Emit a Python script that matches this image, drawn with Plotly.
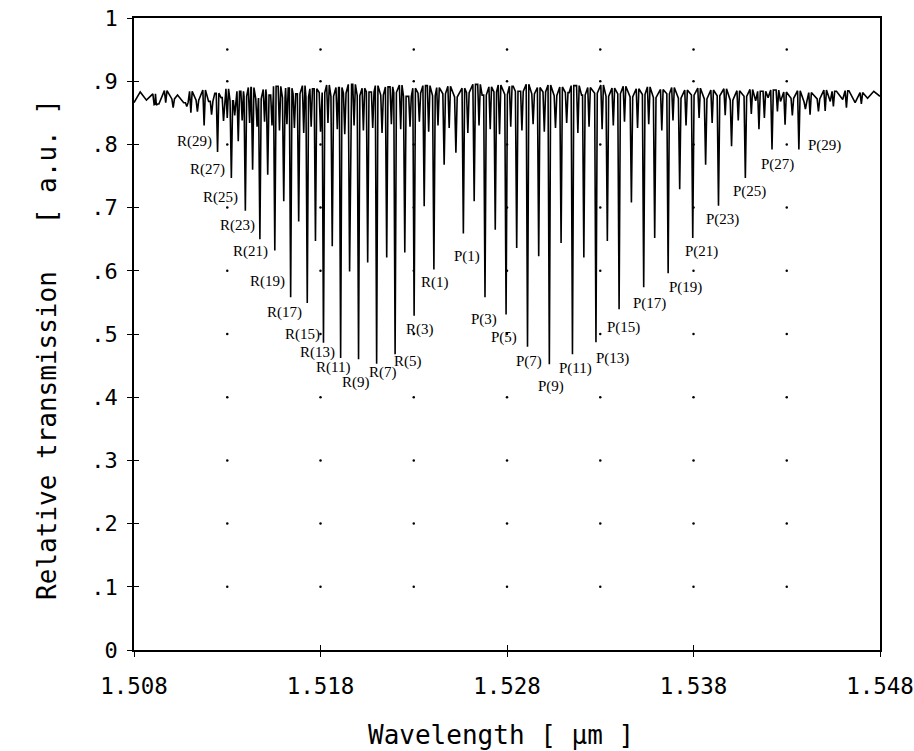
import numpy as np
import plotly.graph_objects as go

# ---------------- data ----------------
# strong branch lines (odd J)
R_J = [29, 27, 25, 23, 21, 19, 17, 15, 13, 11, 9, 7, 5, 3, 1]
R_wl = [1.51176, 1.51248, 1.51322, 1.51397, 1.51475, 1.51555, 1.51640, 1.51729,
        1.51816, 1.51908, 1.52004, 1.52101, 1.52200, 1.52302, 1.52408]
R_T = [0.830, 0.788, 0.747, 0.695, 0.650, 0.632, 0.558, 0.549,
       0.486, 0.462, 0.460, 0.453, 0.468, 0.529, 0.602]

P_J = [1, 3, 5, 7, 9, 11, 13, 15, 17, 19, 21, 23, 25, 27, 29]
P_wl = [1.52566, 1.52682, 1.52795, 1.52910, 1.53027, 1.53151, 1.53277, 1.53401,
        1.53533, 1.53664, 1.53796, 1.53934, 1.54078, 1.54221, 1.54365]
P_T = [0.659, 0.558, 0.531, 0.480, 0.452, 0.468, 0.487, 0.539,
       0.574, 0.596, 0.652, 0.703, 0.747, 0.792, 0.792]

# weaker (even J) lines
weak_wl = [1.50908, 1.51083, 1.51105, 1.51216, 1.51280, 1.51359, 1.51436, 1.51517,
           1.51603, 1.51683, 1.51773, 1.51863, 1.51956, 1.52053, 1.52155, 1.52252,
           1.52356, 1.52463, 1.52526, 1.52624, 1.52737, 1.52852, 1.52970, 1.53090,
           1.53212, 1.53338, 1.53467, 1.53592, 1.53726, 1.53865, 1.54004, 1.54151,
           1.54291, 1.54425, 1.54506]
weak_T = [0.863, 0.860, 0.850, 0.847, 0.837, 0.805, 0.760, 0.752,
          0.710, 0.678, 0.647, 0.639, 0.599, 0.613, 0.621, 0.629,
          0.702, 0.768, 0.787, 0.710, 0.665, 0.636, 0.623, 0.644,
          0.621, 0.647, 0.708, 0.652, 0.729, 0.768, 0.797, 0.824,
          0.831, 0.847, 0.853]

# small hot-band dips
hot_wl = [1.5092, 1.5097, 1.5101, 1.5114, 1.5130,
          1.5134, 1.5138, 1.5142, 1.5146, 1.5150,
          1.5154, 1.5158, 1.5162, 1.5166, 1.5171,
          1.5175, 1.5180, 1.5184, 1.5189, 1.5193,
          1.5198, 1.5203, 1.5208, 1.5213, 1.5218,
          1.5223, 1.5228, 1.5233, 1.5238, 1.5243,
          1.5249, 1.5259, 1.5265, 1.5271, 1.5276,
          1.5282, 1.5288, 1.5294, 1.5300, 1.5306,
          1.5312, 1.5318, 1.5324, 1.5331, 1.5337,
          1.5343, 1.5350, 1.5356, 1.5363, 1.5369,
          1.5376, 1.5383, 1.5390, 1.5397, 1.5404,
          1.5411, 1.5418, 1.5425, 1.5433, 1.5440,
          1.5447, 1.5455, 1.5462, 1.5470]
hot_T = [0.862, 0.866, 0.858, 0.852, 0.842,
         0.846, 0.838, 0.834, 0.828, 0.836,
         0.830, 0.822, 0.832, 0.826, 0.818,
         0.828, 0.820, 0.834, 0.824, 0.816,
         0.830, 0.822, 0.826, 0.818, 0.832,
         0.824, 0.828, 0.836, 0.820, 0.830,
         0.826, 0.818, 0.830, 0.824, 0.816,
         0.828, 0.822, 0.832, 0.820, 0.826,
         0.834, 0.818, 0.828, 0.824, 0.830,
         0.836, 0.826, 0.832, 0.822, 0.838,
         0.830, 0.842, 0.834, 0.846, 0.838,
         0.848, 0.842, 0.852, 0.846, 0.856,
         0.852, 0.860, 0.858, 0.864]

# continuum level, sampled every 1/3 nm from 1.508 to 1.548 um
cont_start = 1.508
cont_step = 1.0 / 3000.0
cont_T = [
    0.866, 0.883, 0.870, 0.880, 0.864, 0.885, 0.872, 0.878, 0.866, 0.884,
    0.870, 0.886, 0.868, 0.881, 0.874, 0.888, 0.869, 0.884, 0.876, 0.890,
    0.872, 0.887, 0.878, 0.892, 0.874, 0.889, 0.880, 0.893, 0.875, 0.888,
    0.882, 0.894, 0.876, 0.890, 0.881, 0.895, 0.877, 0.889, 0.883, 0.893,
    0.878, 0.891, 0.882, 0.894, 0.876, 0.889, 0.881, 0.893, 0.877, 0.890,
    0.880, 0.892, 0.875, 0.889, 0.882, 0.895, 0.878, 0.891, 0.883, 0.894,
    0.879, 0.892, 0.884, 0.895, 0.880, 0.890, 0.883, 0.894, 0.877, 0.891,
    0.882, 0.893, 0.878, 0.890, 0.881, 0.894, 0.876, 0.889, 0.880, 0.892,
    0.875, 0.888, 0.879, 0.891, 0.874, 0.887, 0.880, 0.890, 0.873, 0.886,
    0.878, 0.889, 0.872, 0.886, 0.877, 0.888, 0.870, 0.885, 0.876, 0.887,
    0.869, 0.884, 0.874, 0.886, 0.868, 0.883, 0.873, 0.885, 0.867, 0.882,
    0.872, 0.886, 0.868, 0.884, 0.871, 0.885, 0.866, 0.882, 0.873, 0.884, 0.876]

x_tick_vals = [1.508, 1.518, 1.528, 1.538, 1.548]
x_tick_text = ["1.508", "1.518", "1.528", "1.538", "1.548"]
y_tick_vals = [0, 0.1, 0.2, 0.3, 0.4, 0.5, 0.6, 0.7, 0.8, 0.9, 1.0]
y_tick_text = ["0", ".1", ".2", ".3", ".4", ".5", ".6", ".7", ".8", ".9", "1"]
grid_x = [1.513, 1.518, 1.523, 1.528, 1.533, 1.538, 1.543]
grid_y = [0.1, 0.2, 0.3, 0.4, 0.5, 0.6, 0.7, 0.8, 0.9, 0.95]

# ---------------- label placement (pixel offsets from line bottom) ----------------
R_dx = [-10, -10, -11, -8, -9, -7, -6, -5, -6, -8, -3, 6, 13, 6, 1]
R_dy = [16, 18, 20, 15, 12, 31, 15, 31, 10, 9, 23, 9, 7, 14, 13]
P_dx = [4, -1, -2, 1, 2, 3, 17, 4, 6, 17, 9, 4, 4, 5, 26]
P_dy = [23, 22, 23, 15, 22, 14, 16, 18, 16, 14, 14, 14, 14, 15, -4]

# ---------------- build spectrum trace ----------------
assert len(cont_T) == 121 and len(hot_wl) == len(hot_T) and len(weak_wl) == len(weak_T)
lines_wl = list(R_wl) + list(P_wl) + list(weak_wl) + list(hot_wl)
lines_T = list(R_T) + list(P_T) + list(weak_T) + list(hot_T)
half_w = 0.00007

cont_wl = [cont_start + i * cont_step for i in range(len(cont_T))]
pts = []
lw_arr = np.array(lines_wl)
for w, t in zip(cont_wl, cont_T):
    if np.min(np.abs(lw_arr - w)) > 1.5 * half_w:
        pts.append((w, t))
for w, t in zip(lines_wl, lines_T):
    k = int(round((w - cont_start) / cont_step))
    k = max(0, min(len(cont_T) - 1, k))
    top = cont_T[k]
    pts.append((w - half_w, top))
    pts.append((w, t))
    pts.append((w + half_w, top))
pts.sort(key=lambda p: p[0])
xs = [p[0] for p in pts]
ys = [p[1] for p in pts]

fig = go.Figure()
fig.add_trace(go.Scatter(x=xs, y=ys, mode="lines",
                         line=dict(color="black", width=1.6),
                         hoverinfo="skip", showlegend=False))

gx, gy = [], []
for a in grid_x:
    for b in grid_y:
        gx.append(a)
        gy.append(b)
fig.add_trace(go.Scatter(x=gx, y=gy, mode="markers",
                         marker=dict(color="black", size=2.5),
                         xaxis="x2", yaxis="y2",
                         hoverinfo="skip", showlegend=False))

lab_font = dict(family="Liberation Serif", size=15, color="black")
for j, w, t, dx, dy in zip(R_J, R_wl, R_T, R_dx, R_dy):
    fig.add_annotation(x=w, y=t, xref="x", yref="y", text=f"R({j})",
                       showarrow=False, xshift=dx, yshift=-dy, font=lab_font,
                       xanchor="center", yanchor="middle")
for j, w, t, dx, dy in zip(P_J, P_wl, P_T, P_dx, P_dy):
    fig.add_annotation(x=w, y=t, xref="x", yref="y", text=f"P({j})",
                       showarrow=False, xshift=dx, yshift=-dy, font=lab_font,
                       xanchor="center", yanchor="middle")

mono = "DejaVu Sans Mono"
fig.add_annotation(x=0.492, y=-0.134, xref="paper", yref="paper",
                   text="Wavelength [ μm ]", showarrow=False,
                   xanchor="center", yanchor="middle",
                   font=dict(family=mono, size=26, color="black"))
fig.add_annotation(x=-0.117, y=0.476, xref="paper", yref="paper",
                   text="Relative transmission   [ a.u. ]", showarrow=False,
                   textangle=-90, xanchor="center", yanchor="middle",
                   font=dict(family=mono, size=26, color="black"))

fig.update_layout(
    width=914, height=751,
    margin=dict(l=134, r=34, t=18, b=101, autoexpand=False),
    paper_bgcolor="white", plot_bgcolor="white",
    showlegend=False,
    xaxis=dict(range=[1.508, 1.548], tickvals=x_tick_vals, ticktext=x_tick_text,
               showgrid=False, zeroline=False, showline=True, linecolor="black",
               linewidth=1.6, mirror=True, ticks="outside", ticklen=5,
               tickcolor="black", tickwidth=1.2, ticklabelstandoff=10,
               ticklabeloverflow="allow", automargin=False,
               tickfont=dict(family=mono, size=22.5, color="black")),
    yaxis=dict(range=[0, 1], tickvals=y_tick_vals, ticktext=y_tick_text,
               showgrid=False, zeroline=False, showline=True, linecolor="black",
               linewidth=1.8, mirror=True, ticks="outside", ticklen=5,
               tickcolor="black", tickwidth=1.2, ticklabelstandoff=5,
               ticklabeloverflow="allow", automargin=False,
               tickfont=dict(family=mono, size=22, color="black")),
    xaxis2=dict(range=[1.508, 1.548], overlaying="x", anchor="y2", side="bottom",
                tickvals=x_tick_vals[1:-1], ticks="inside", ticklen=5,
                tickcolor="black", tickwidth=1.2, showticklabels=False,
                showgrid=False, zeroline=False, showline=False, automargin=False),
    yaxis2=dict(range=[0, 1], overlaying="y", anchor="x2", side="left",
                tickvals=y_tick_vals[1:-1], ticks="inside", ticklen=5,
                tickcolor="black", tickwidth=1.2, showticklabels=False,
                showgrid=False, zeroline=False, showline=False, automargin=False),
)

fig.write_html("out.html",
               config={"displayModeBar": False},
               post_script="document.body.style.margin='0';document.body.style.overflow='hidden';")
